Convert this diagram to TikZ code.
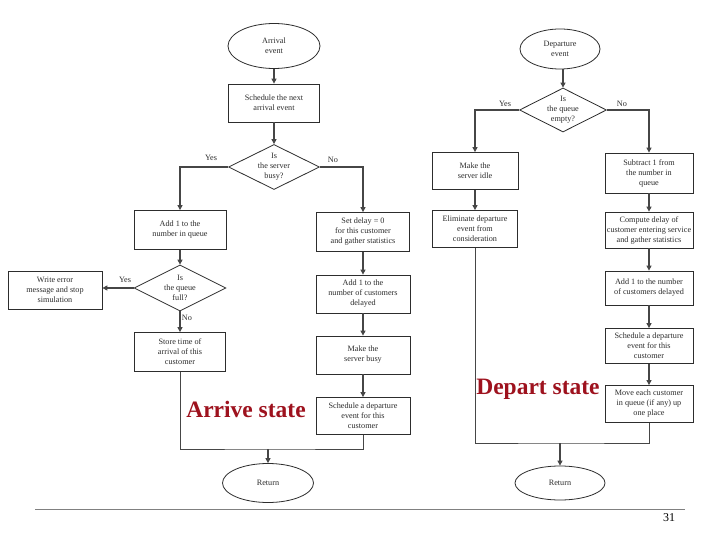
\documentclass[tikz,border=0pt]{standalone}
\usepackage{fontspec}
\setmainfont{Liberation Serif}
\usepackage{xcolor}
\usetikzlibrary{shapes.geometric,arrows.meta,positioning,calc}
\definecolor{scanink}{RGB}{45,45,45}
\definecolor{scanline}{RGB}{70,70,70}
\definecolor{rulegrey}{RGB}{128,128,128}
\definecolor{statered}{RGB}{158,18,30}
\newcommand{\boxfont}{\fontsize{8.2}{10}\selectfont}

\begin{document}
\begin{tikzpicture}[x=1pt, y=-1pt,
  every node/.style={font=\boxfont, text=scanink, align=center, inner sep=1pt},
  evt/.style={draw=scanink, ellipse, line width=0.8pt},
  proc/.style={draw=scanink, rectangle, line width=0.8pt},
  dec/.style={draw=scanink, diamond, line width=0.8pt, inner sep=0pt},
  flow/.style={draw=scanline, line width=1.1pt, -{Triangle[length=5pt,width=5pt]}},
  mergeline/.style={draw=scanline, line width=0.9pt},
  state/.style={font=\fontsize{23.5}{26}\selectfont\bfseries, text=statered, anchor=base}]
\useasboundingbox[fill=white] (0,0) rectangle (720,540);
% Arrival event (left chart)
\node[evt, minimum width=92pt, minimum height=45pt] (arrEvt) at (274,46) {Arrival\\event};
\node[proc, minimum width=91pt, minimum height=38pt] (schedNext) at (274,103) {Schedule the next\\arrival event};
\node[dec, minimum width=91pt, minimum height=45pt] (srvBusy) at (274,167) {};
\node (srvBusyTxt) at (srvBusy) {Is\\the server\\busy?};
\node[proc, minimum width=92pt, minimum height=39pt] (addQ) at (180,230) {Add 1 to the\\number in queue};
\node[proc, minimum width=93pt, minimum height=39pt] (setDelay) at (363,232) {Set delay = 0\\for this customer\\and gather statistics};
\node[dec, minimum width=92pt, minimum height=46pt] (qFull) at (180,288) {};
\node (qFullTxt) at (qFull) {Is\\the queue\\full?};
\node[proc, minimum width=94pt, minimum height=38pt] (errMsg) at (55,290) {Write error\\message and stop\\simulation};
\node[proc, minimum width=91pt, minimum height=39pt] (storeT) at (180,352) {Store time of\\arrival of this\\customer};
\node[proc, minimum width=94pt, minimum height=38pt] (addDel) at (363,294) {Add 1 to the\\number of customers\\delayed};
\node[proc, minimum width=94pt, minimum height=38pt] (mkBusy) at (363,355) {Make the\\server busy};
\node[proc, minimum width=94pt, minimum height=37pt] (schedDep) at (363,416) {Schedule a departure\\event for this\\customer};
\node[evt, minimum width=91pt, minimum height=39pt] (retA) at (268,483) {Return};
\coordinate (joinA) at (268,449);
\node[state] (arriveLbl) at (246,417) {Arrive state};
\draw[flow] (arrEvt) -- (schedNext);
\draw[flow] (schedNext) -- (srvBusy);
\draw[flow] (srvBusy.west) -| (addQ.north);
\draw[flow] (srvBusy.east) -| (setDelay.north);
\draw[flow] (addQ) -- (qFull);
\draw[flow] (qFull.west) -- (qFull.west -| errMsg.east);
\draw[flow] (qFull) -- (storeT);
\draw[flow] (setDelay) -- (addDel);
\draw[flow] (addDel) -- (mkBusy);
\draw[flow] (mkBusy) -- (schedDep);
\draw[mergeline] (storeT.south) |- (joinA) -| (schedDep.south);
\draw[flow] (joinA) -- (retA.north);
\node (yesA) at (211,158) {Yes};
\node (noA) at (333,160) {No};
\node (yesB) at (125,280) {Yes};
\node (noB) at (187,318) {No};
% Departure event (right chart)
\node[evt, minimum width=80pt, minimum height=40pt] (depEvt) at (560,49) {Departure\\event};
\node[dec, minimum width=87pt, minimum height=44pt] (qEmpty) at (563,110) {};
\node (qEmptyTxt) at (qEmpty) {Is\\the queue\\empty?};
\node[proc, minimum width=86pt, minimum height=37pt] (mkIdle) at (475,171) {Make the\\server idle};
\node[proc, minimum width=85pt, minimum height=37pt] (elimDep) at (475,229) {Eliminate departure\\event from\\consideration};
\node[proc, minimum width=88pt, minimum height=40pt] (subOne) at (649,173) {Subtract 1 from\\the number in\\queue};
\node[proc, minimum width=88pt, minimum height=36pt] (compDel) at (649,230) {Compute delay of\\customer entering service\\and gather statistics};
\node[proc, minimum width=88pt, minimum height=34pt] (addDelR) at (649,288) {Add 1 to the number\\of customers delayed};
\node[proc, minimum width=88pt, minimum height=35pt] (schedDepR) at (649,346) {Schedule a departure\\event for this\\customer};
\node[proc, minimum width=88pt, minimum height=37pt] (moveCust) at (649,404) {Move each customer\\in queue (if any) up\\one place};
\node[evt, minimum width=90pt, minimum height=34pt] (retD) at (560,483) {Return};
\coordinate (joinD) at (560,443);
\node[state] (departLbl) at (538,394) {Depart state};
\draw[flow] (depEvt.south -| qEmpty.north) -- (qEmpty.north);
\draw[flow] (qEmpty.west) -| (mkIdle.north);
\draw[flow] (qEmpty.east) -| (subOne.north);
\draw[flow] (mkIdle) -- (elimDep);
\draw[flow] (subOne) -- (compDel);
\draw[flow] (compDel) -- (addDelR);
\draw[flow] (addDelR) -- (schedDepR);
\draw[flow] (schedDepR) -- (moveCust);
\draw[mergeline] (elimDep.south) |- (joinD) -| (moveCust.south);
\draw[flow] (joinD) -- (retD.north);
\node (yesC) at (505,104) {Yes};
\node (noC) at (622,104) {No};
% slide footer
\coordinate (ruleL) at (35,509);
\coordinate (ruleR) at (685,509);
\draw[rulegrey, line width=0.9pt] (ruleL) -- (ruleR);
\node[font=\fontsize{12}{14}\selectfont, text=black] (pageNo) at (669,518) {31};
\end{tikzpicture}
\end{document}
